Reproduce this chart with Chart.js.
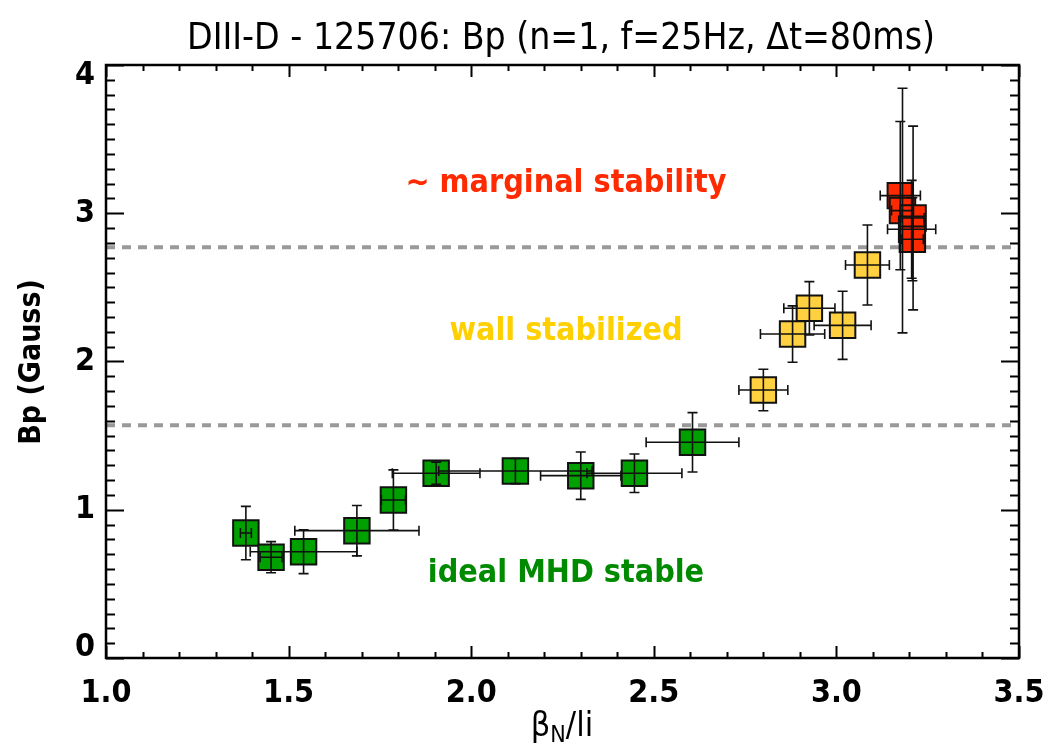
<!DOCTYPE html>
<html>
<head>
<meta charset="utf-8">
<script src="https://cdn.jsdelivr.net/npm/chart.js@4.4.0/dist/chart.umd.min.js"></script>
<style>
  html, body { margin: 0; padding: 0; background: #fff; }
  #c { display: block; }
</style>
</head>
<body>
<canvas id="c" width="1049" height="747"></canvas>
<script>
// --- data ---
const greenX    = [1.383, 1.452, 1.541, 1.687, 1.787, 1.904, 2.121, 2.300, 2.447, 2.606];
const greenY    = [0.843, 0.680, 0.717, 0.859, 1.066, 1.246, 1.261, 1.230, 1.246, 1.455];
const greenXErr = [0.015, 0.030, 0.146, 0.170, 0.033, 0.120, 0.210, 0.110, 0.130, 0.127];
const greenYErr = [0.180, 0.105, 0.148, 0.170, 0.203, 0.075, 0.085, 0.160, 0.130, 0.200];

const yellowX    = [2.800, 2.880, 2.926, 3.017, 3.085];
const yellowY    = [1.808, 2.185, 2.359, 2.244, 2.651];
const yellowXErr = [0.067, 0.088, 0.070, 0.078, 0.060];
const yellowYErr = [0.140, 0.190, 0.180, 0.230, 0.270];

const redX    = [3.175, 3.181, 3.210, 3.206, 3.208];
const redY    = [3.119, 3.018, 2.968, 2.892, 2.825];
const redXErr = [0.055, 0.030, 0.030, 0.066, 0.030];
const redYErr = [0.500, 0.825, 0.620, 0.330, 0.280];

const thresholds = [2.77, 1.57];   // dashed boundaries

const xTicks = [1.0, 1.5, 2.0, 2.5, 3.0, 3.5];
const yTicks = [0, 1, 2, 3, 4];
const minorStep = 0.1;

const regionLabels = ['~ marginal stability', 'wall stabilized', 'ideal MHD stable'];
const regionLabelY = [3.20, 2.20, 0.57];
const regionColors = ['#ff2a00', '#ffd000', '#008a00'];

const FONT = "'Liberation Sans Narrow', 'DejaVu Sans Condensed', 'Arial Narrow', sans-serif";

function pts(xs, ys) {
    return xs.map((x, i) => ({ x: x, y: ys[i] }));
}

const errSets = [
    { xs: greenX, ys: greenY, xe: greenXErr, ye: greenYErr },
    { xs: yellowX, ys: yellowY, xe: yellowXErr, ye: yellowYErr },
    { xs: redX, ys: redY, xe: redXErr, ye: redYErr }
];

// draw frame, inward ticks, y labels, titles, error bars
const extras = {
    id: 'extras',
    afterDatasetsDraw(chart) {
        const ctx = chart.ctx;
        const xs = chart.scales.x, ys = chart.scales.y;
        const cap = 5;
        ctx.save();
        ctx.strokeStyle = '#111';
        ctx.lineWidth = 1.6;
        errSets.forEach(s => {
            s.xs.forEach((xv, i) => {
                const yv = s.ys[i];
                const px = xs.getPixelForValue(xv), py = ys.getPixelForValue(yv);
                const x0 = xs.getPixelForValue(xv - s.xe[i]), x1 = xs.getPixelForValue(xv + s.xe[i]);
                const y0 = ys.getPixelForValue(yv - s.ye[i]), y1 = ys.getPixelForValue(yv + s.ye[i]);
                ctx.beginPath();
                ctx.moveTo(x0, py); ctx.lineTo(x1, py);
                ctx.moveTo(x0, py - cap); ctx.lineTo(x0, py + cap);
                ctx.moveTo(x1, py - cap); ctx.lineTo(x1, py + cap);
                ctx.moveTo(px, y0); ctx.lineTo(px, y1);
                ctx.moveTo(px - cap, y0); ctx.lineTo(px + cap, y0);
                ctx.moveTo(px - cap, y1); ctx.lineTo(px + cap, y1);
                ctx.stroke();
            });
        });
        ctx.restore();
    },
    afterDraw(chart) {
        const ctx = chart.ctx;
        const a = chart.chartArea;
        const xs = chart.scales.x, ys = chart.scales.y;
        ctx.save();
        ctx.strokeStyle = '#000';
        ctx.lineWidth = 2.5;
        ctx.strokeRect(a.left, a.top, a.right - a.left, a.bottom - a.top);

        ctx.lineWidth = 2;
        ctx.beginPath();
        // x ticks, bottom and top
        for (let v = xTicks[0]; v <= xTicks[xTicks.length - 1] + 1e-9; v += minorStep) {
            const major = xTicks.some(t => Math.abs(t - v) < 1e-6);
            const len = major ? 12 : 6;
            const p = Math.round(xs.getPixelForValue(v)) + 0.5;
            ctx.moveTo(p, a.bottom); ctx.lineTo(p, a.bottom - len);
            ctx.moveTo(p, a.top); ctx.lineTo(p, a.top + len);
        }
        // y ticks, left and right
        for (let v = yTicks[0]; v <= yTicks[yTicks.length - 1] + 1e-9; v += minorStep) {
            const major = yTicks.some(t => Math.abs(t - v) < 1e-6);
            const len = major ? 18 : 9;
            const p = Math.round(ys.getPixelForValue(v)) + 0.5;
            ctx.moveTo(a.left, p); ctx.lineTo(a.left + len, p);
            ctx.moveTo(a.right, p); ctx.lineTo(a.right - len, p);
        }
        ctx.stroke();

        // y tick labels (end labels nudged inside like the original)
        ctx.fillStyle = '#000';
        ctx.font = 'bold 32px ' + FONT;
        ctx.textAlign = 'right';
        ctx.textBaseline = 'middle';
        yTicks.forEach(t => {
            let p = ys.getPixelForValue(t);
            p = Math.min(a.bottom - 10, Math.max(a.top + 11, p));
            ctx.fillText(String(t), a.left - 11, p);
        });

        // title
        ctx.textAlign = 'center';
        ctx.textBaseline = 'alphabetic';
        ctx.font = '37px ' + FONT;
        ctx.fillText('DIII-D - 125706: Bp (n=1, f=25Hz, \u0394t=80ms)', 561, 49);

        // region labels
        ctx.font = 'bold 32px ' + FONT;
        ctx.textBaseline = 'middle';
        regionLabels.forEach((t, i) => {
            ctx.fillStyle = regionColors[i];
            ctx.fillText(t, 566, ys.getPixelForValue(regionLabelY[i]));
        });

        // y axis title
        ctx.fillStyle = '#000';
        ctx.save();
        ctx.translate(32, 362);
        ctx.rotate(-Math.PI / 2);
        ctx.font = 'bold 30px ' + FONT;
        ctx.fillText('Bp (Gauss)', 0, 0);
        ctx.restore();

        // x axis title: beta_N / li
        ctx.textAlign = 'left';
        ctx.textBaseline = 'alphabetic';
        const big = '34px ' + FONT, small = '23px ' + FONT;
        ctx.font = big;
        const wB = ctx.measureText('\u03b2').width;
        const wL = ctx.measureText('/li').width;
        ctx.font = small;
        const wN = ctx.measureText('N').width;
        let x = 562 - (wB + wN + wL) / 2;
        const base = 736;
        ctx.font = big;
        ctx.fillText('\u03b2', x, base); x += wB;
        ctx.font = small;
        ctx.fillText('N', x, base + 6); x += wN;
        ctx.font = big;
        ctx.fillText('/li', x, base);
        ctx.restore();
    }
};

const boxStyle = (color) => ({
    pointStyle: 'rect',
    pointRadius: 18,
    pointHoverRadius: 18,
    backgroundColor: color,
    borderColor: '#111',
    borderWidth: 2,
    showLine: false
});

const datasets = [
    Object.assign({ label: 'marginal', data: pts(redX, redY) }, boxStyle('#ff2a00')),
    Object.assign({ label: 'wall', data: pts(yellowX, yellowY) }, boxStyle('#ffd040')),
    Object.assign({ label: 'ideal', data: pts(greenX, greenY) }, boxStyle('#00a000'))
];
thresholds.forEach((t, i) => {
    datasets.push({
        type: 'line',
        label: 'limit' + i,
        data: [{ x: xTicks[0], y: t }, { x: xTicks[xTicks.length - 1], y: t }],
        borderColor: '#999',
        borderWidth: 4,
        borderDash: [9, 7],
        pointRadius: 0,
        fill: false
    });
});

new Chart(document.getElementById('c').getContext('2d'), {
    type: 'scatter',
    data: { datasets: datasets },
    options: {
        responsive: false,
        animation: false,
        layout: { padding: { top: 65, right: 30, left: 0, bottom: 0 } },
        plugins: {
            legend: { display: false },
            tooltip: { enabled: false }
        },
        scales: {
            x: {
                type: 'linear',
                min: 1.0,
                max: 3.5,
                afterFit: s => { s.height = 89; s.paddingLeft = 0; s.paddingRight = 0; },
                afterBuildTicks: s => { s.ticks = xTicks.map(v => ({ value: v })); },
                grid: { display: false, drawTicks: false },
                border: { display: false },
                ticks: {
                    color: '#000',
                    padding: 16,
                    maxRotation: 0,
                    font: { family: FONT, size: 32, weight: 'bold' },
                    callback: v => v.toFixed(1)
                }
            },
            y: {
                type: 'linear',
                min: 0,
                max: 4,
                afterFit: s => { s.width = 106; s.paddingTop = 0; s.paddingBottom = 0; },
                afterBuildTicks: s => { s.ticks = yTicks.map(v => ({ value: v })); },
                grid: { display: false, drawTicks: false },
                border: { display: false },
                ticks: { display: false }
            }
        }
    },
    plugins: [extras]
});
</script>
</body>
</html>
